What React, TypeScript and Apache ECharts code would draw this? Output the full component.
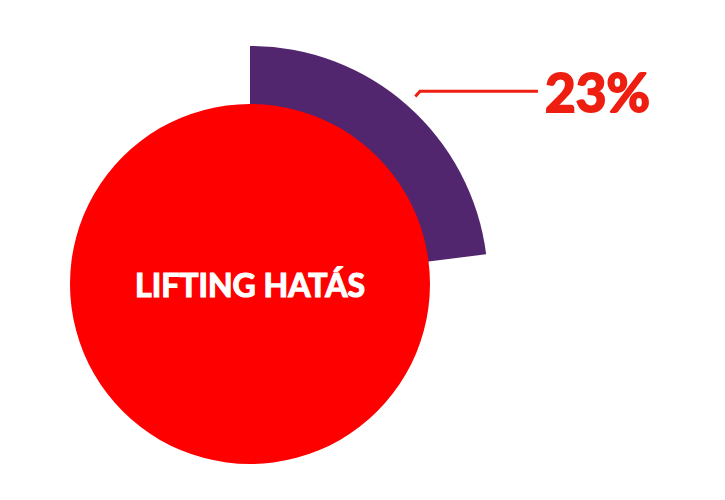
import React, { useEffect, useRef } from "react";
import * as echarts from "echarts";

const shareNames = ["Lifting hatás", "Egyéb"];
const shareValues = [23, 77];
const centerTitle = "LIFTING HATÁS";

export default function App() {
  const ref = useRef<HTMLDivElement>(null);
  useEffect(() => {
    if (!ref.current) return;
    const chart = echarts.init(ref.current, null, { renderer: "svg" });
    const total = shareValues.reduce((a, b) => a + b, 0);
    const center = [250, 284];
    chart.setOption({
      animation: false,
      backgroundColor: "#ffffff",
      series: [
        {
          type: "pie",
          silent: true,
          center,
          radius: [0, 250],
          startAngle: 90,
          clockwise: true,
          z: 1,
          emphasis: { disabled: true },
          labelLine: { show: false },
          label: { show: false },
          data: shareNames.map((n, i) => ({
            name: n,
            value: shareValues[i],
            itemStyle: { color: "rgba(0,0,0,0)" },
            label:
              i === 0
                ? {
                    show: true,
                    position: "outside",
                    formatter: () => Math.round((shareValues[0] / total) * 100) + "%",
                    color: "#EE1E10",
                    fontFamily: "Lato",
                    fontWeight: "bold",
                    fontSize: 53,
                    textBorderColor: "#EE1E10",
                    textBorderWidth: 2,
                    distanceToLabelLine: 7,
                  }
                : { show: false },
            labelLine:
              i === 0
                ? {
                    show: true,
                    length: 7,
                    length2: 118,
                    smooth: false,
                    lineStyle: { color: "#EE1E10", width: 3 },
                  }
                : { show: false },
          })),
        },
        {
          type: "pie",
          silent: true,
          center,
          radius: [0, 238],
          startAngle: 90,
          clockwise: true,
          z: 2,
          emphasis: { disabled: true },
          label: { show: false },
          labelLine: { show: false },
          data: shareNames.map((n, i) => ({
            name: n,
            value: shareValues[i],
            itemStyle: { color: i === 0 ? "#52266E" : "rgba(0,0,0,0)" },
          })),
        },
        {
          type: "pie",
          silent: true,
          center,
          radius: [0, 180],
          z: 3,
          emphasis: { disabled: true },
          labelLine: { show: false },
          label: {
            show: true,
            position: "center",
            formatter: centerTitle,
            color: "#ffffff",
            fontFamily: "Lato",
            fontWeight: "bold",
            fontSize: 32,
            textBorderColor: "#ffffff",
            textBorderWidth: 1.2,
          },
          data: [{ name: centerTitle, value: total, itemStyle: { color: "#FE0000" } }],
        },
      ],
    });
    return () => chart.dispose();
  }, []);
  return (
    <div
      ref={ref}
      style={{ position: "fixed", left: 0, top: 0, width: 725, height: 500 }}
    />
  );
}
